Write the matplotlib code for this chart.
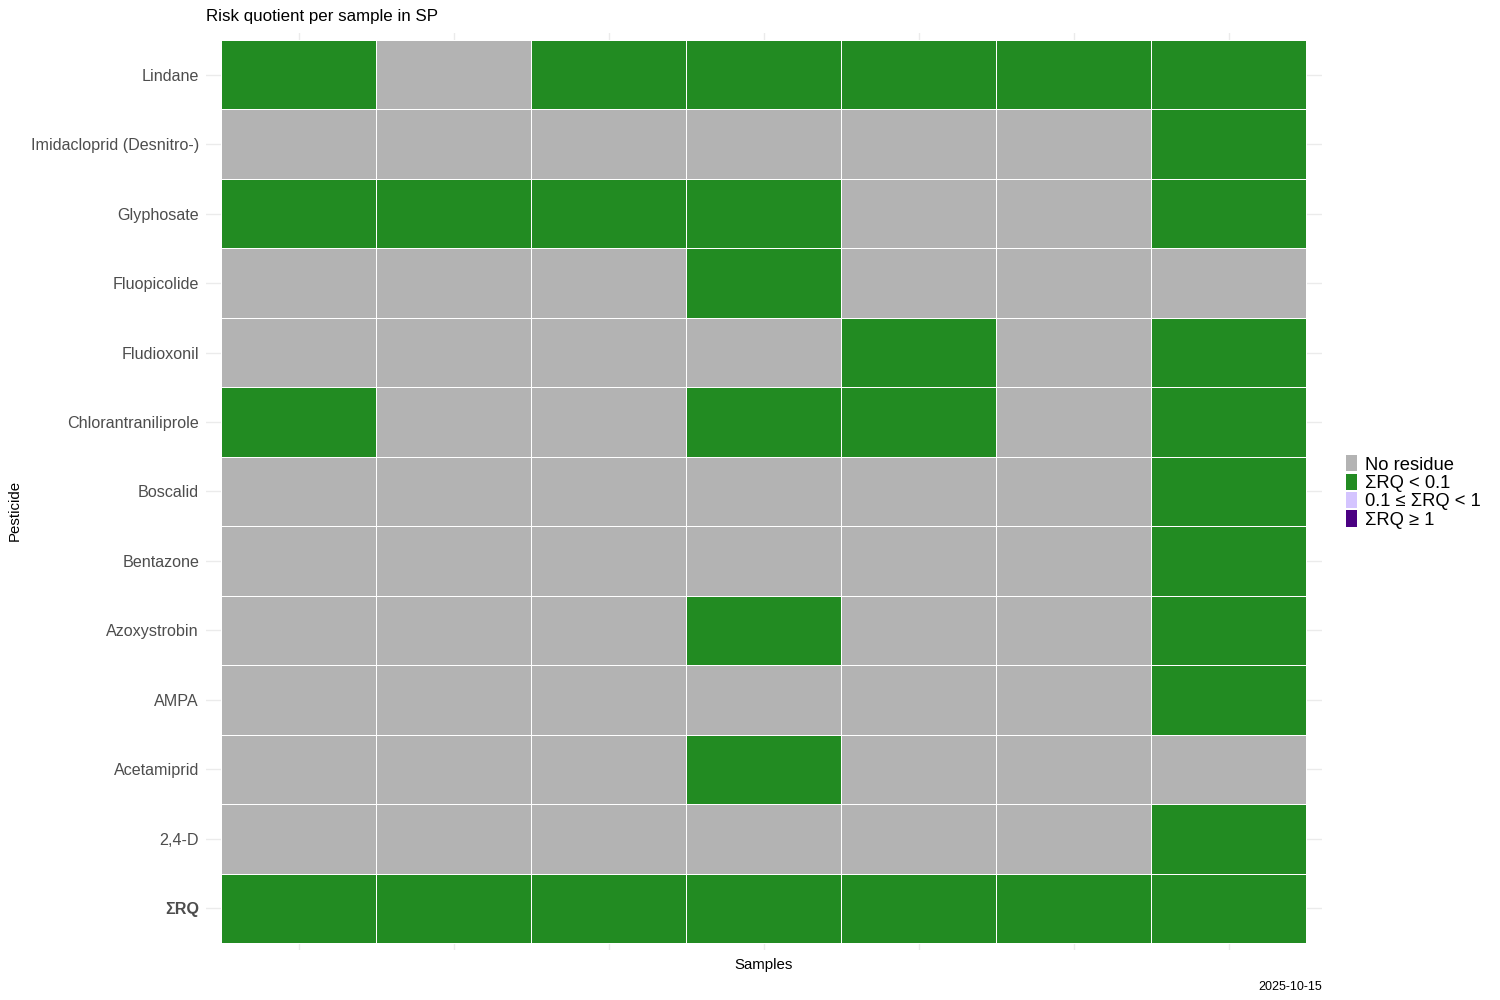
import numpy as np
import matplotlib
matplotlib.use("Agg")
import matplotlib.pyplot as plt
import matplotlib.patches as patches
from matplotlib.colors import ListedColormap, BoundaryNorm

plt.rcParams['font.family'] = ['Liberation Sans', 'DejaVu Sans']

pesticides = ["Lindane", "Imidacloprid (Desnitro-)", "Glyphosate", "Fluopicolide",
              "Fludioxonil", "Chlorantraniliprole", "Boscalid", "Bentazone",
              "Azoxystrobin", "AMPA", "Acetamiprid", "2,4-D", "ΣRQ"]
samples = ["S1", "S2", "S3", "S4", "S5", "S6", "S7"]

# 0 = no residue, 1 = RQ < 0.1, 2 = 0.1 <= RQ < 1, 3 = RQ >= 1
classes = [
    [1, 0, 1, 1, 1, 1, 1],
    [0, 0, 0, 0, 0, 0, 1],
    [1, 1, 1, 1, 0, 0, 1],
    [0, 0, 0, 1, 0, 0, 0],
    [0, 0, 0, 0, 1, 0, 1],
    [1, 0, 0, 1, 1, 0, 1],
    [0, 0, 0, 0, 0, 0, 1],
    [0, 0, 0, 0, 0, 0, 1],
    [0, 0, 0, 1, 0, 0, 1],
    [0, 0, 0, 0, 0, 0, 1],
    [0, 0, 0, 1, 0, 0, 0],
    [0, 0, 0, 0, 0, 0, 1],
    [1, 1, 1, 1, 1, 1, 1],
]

class_labels = ["No residue", "ΣRQ < 0.1", "0.1 ≤ ΣRQ < 1", "ΣRQ ≥ 1"]
class_colors = ["#B3B3B3", "#228B22", "#D4C4FF", "#4B0082"]

fig = plt.figure(figsize=(15, 10), dpi=100)
ax = fig.add_axes([0.1373, 0.05, 0.744, 0.917])

n_rows = len(pesticides)
n_cols = len(samples)
z = np.array(classes)[::-1]  # bottom row first

cmap = ListedColormap(class_colors)
norm = BoundaryNorm([-0.5, 0.5, 1.5, 2.5, 3.5], cmap.N)
xe = np.arange(n_cols + 1) + 0.5
ye = np.arange(n_rows + 1) + 0.5
ax.pcolormesh(xe, ye, z, cmap=cmap, norm=norm, edgecolors="white",
              linewidth=0.5, zorder=2)

ax.set_xlim(0.4, n_cols + 0.6)
ax.set_ylim(0.4, n_rows + 0.6)

ax.set_xticks(np.arange(1, n_cols + 1))
ax.set_xticklabels([])
ax.set_yticks(np.arange(1, n_rows + 1))
ax.set_yticklabels(pesticides[::-1], fontsize=11.6, color="#4D4D4D")
ax.get_yticklabels()[0].set_fontweight("bold")
ax.tick_params(length=0, pad=5)
ax.grid(True, color="#EBEBEB", linewidth=1.0, zorder=0)
ax.set_axisbelow(True)
for s in ax.spines.values():
    s.set_visible(False)

fig.text(0.1373, 0.984, "Risk quotient per sample in SP", fontsize=12.2,
         ha="left", va="center")
fig.text(0.5093, 0.035, "Samples", fontsize=10.8, ha="center", va="center")
fig.text(0.010, 0.49, "Pesticide", fontsize=10.8, rotation=90,
         ha="center", va="center")
fig.text(0.8813, 0.013, "2025-10-15", fontsize=9, ha="right", va="center")

handles = [patches.Patch(facecolor=c, edgecolor="none", label=l)
           for c, l in zip(class_colors, class_labels)]
fig.legend(handles=handles, loc="center left", bbox_to_anchor=(0.8915, 0.508),
           frameon=False, fontsize=13.2, handlelength=0.55, handleheight=1.0,
           handletextpad=0.45, labelspacing=0.0, borderpad=0)

fig.savefig("out.png", dpi=100)
